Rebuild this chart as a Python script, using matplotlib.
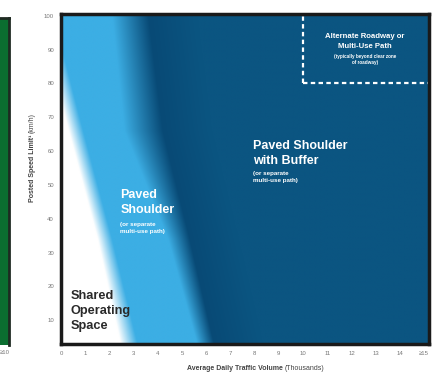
import numpy as np
import matplotlib
matplotlib.use('Agg')
import matplotlib.pyplot as plt
from matplotlib.colors import to_rgb

plt.rcParams['font.family'] = ['Liberation Sans', 'DejaVu Sans']

# axis ticks
x_ticks = list(range(16))
x_labels = [str(v) for v in range(15)] + ['≥15']
y_ticks = list(range(10, 101, 10))

# zone boundaries (speed -> traffic volume)
shared_edge_y = [3, 34, 69, 100]
shared_edge_x = [2.8, 1.8, 0.5, -0.6]
shared_edge_w = [0.35, 0.3, 0.3, 0.3]
buffer_edge_y = [3, 34, 66, 100]
buffer_edge_x = [5.95, 4.85, 3.4, 2.85]
buffer_edge_w = [0.35, 0.45, 0.8, 0.75]

# alternate roadway box
alt_x = 10
alt_y = 80

white = np.array(to_rgb('#ffffff'))
light = np.array(to_rgb('#3caee4'))
deep = np.array(to_rgb('#084a76'))
navy = np.array(to_rgb('#0b5581'))

xmin, xmax, ymin, ymax = 0.08, 15.2, 3, 100.5

fig = plt.figure(figsize=(4.36, 3.76), dpi=100)
ax = fig.add_axes([61/436, 1-344/376, (429-61)/436, (344-14)/376])

# background gradient
gx = np.linspace(xmin, xmax, 800)
gy = np.linspace(ymin, ymax, 300)
X, Y = np.meshgrid(gx, gy)
se = np.interp(Y, shared_edge_y, shared_edge_x)
sw = np.interp(Y, shared_edge_y, shared_edge_w)
be = np.interp(Y, buffer_edge_y, buffer_edge_x)
bw = np.interp(Y, buffer_edge_y, buffer_edge_w)
t1 = np.clip((X - (se - sw)) / (2*sw), 0, 1)[..., None]
t2 = np.clip((X - (be - bw)) / (2*bw), 0, 1)[..., None]
t3 = np.clip((X - (be + bw)) / 2.0, 0, 1)[..., None]
img = white*(1-t1) + light*t1
img = img*(1-t2) + deep*t2
img = img*(1-t3) + navy*t3
ax.imshow(img, extent=[xmin, xmax, ymin, ymax], origin='lower', aspect='auto',
          interpolation='bilinear', zorder=0)

# dashed box
ax.plot([alt_x, alt_x], [alt_y, ymax], color='white', lw=1.6, ls=(0, (2, 1.5)), zorder=2)
ax.plot([alt_x, xmax], [alt_y, alt_y], color='white', lw=1.6, ls=(0, (2, 1.5)), zorder=2)

ax.set_xlim(xmin, xmax)
ax.set_ylim(ymin, ymax)
ax.set_xticks(x_ticks)
ax.set_xticklabels(x_labels)
ax.set_yticks(y_ticks)
ax.tick_params(length=0, labelsize=4.3, labelcolor='#777777', pad=5)
for s in ax.spines.values():
    s.set_linewidth(2.5)
    s.set_color('#1a1a1a')

# zone labels
ax.text(0.4, 12.7, 'Shared\nOperating\nSpace', fontsize=9.2, fontweight='bold',
        color='#2a2a2a', va='center', ha='left', linespacing=1.35)
ax.text(2.45, 44.8, 'Paved\nShoulder', fontsize=9, fontweight='bold',
        color='white', va='center', ha='left', linespacing=1.35)
ax.text(2.45, 37.3, '(or separate\nmulti-use path)', fontsize=4.5, fontweight='bold',
        color='white', va='center', ha='left', linespacing=1.35)
ax.text(7.95, 59.3, 'Paved Shoulder\nwith Buffer', fontsize=9, fontweight='bold',
        color='white', va='center', ha='left', linespacing=1.35)
ax.text(7.95, 52.3, '(or separate\nmulti-use path)', fontsize=4.5, fontweight='bold',
        color='white', va='center', ha='left', linespacing=1.35)
ax.text(12.55, 92.4, 'Alternate Roadway or\nMulti-Use Path', fontsize=5.6, fontweight='bold',
        color='white', va='center', ha='center', linespacing=1.55)
ax.text(12.55, 87.1, '(typically beyond clear zone\nof roadway)', fontsize=3.3, fontweight='bold',
        color='white', va='center', ha='center', linespacing=1.15)

# axis titles
fig.text(283/436, 1-369/376, 'Average Daily Traffic Volume', fontsize=5, fontweight='bold',
         color='#444444', ha='right', va='center')
fig.text(285/436, 1-369/376, '(Thousands)', fontsize=5, color='#444444', ha='left', va='center')
fig.text(32/436, 1-135/376, 'Posted Speed Limit¹', fontsize=5, fontweight='bold',
         color='#444444', ha='center', va='top', rotation=90)
fig.text(32/436, 1-133/376, '(km/h)', fontsize=5, color='#444444', ha='center', va='bottom',
         rotation=90)

# neighbouring panel cut off at the left edge
ax2 = fig.add_axes([-0.02, 1-345/376, 18/436, (345-18)/376])
ax2.set_facecolor('#0b6e30')
ax2.set_xticks([])
ax2.set_yticks([])
for side, s in ax2.spines.items():
    s.set_linewidth(2)
    s.set_color('#1f2a22')
    if side in ('left', 'bottom'):
        s.set_visible(False)
fig.text(9.5/436, 1-352/376, '≥10', fontsize=4.3, color='#777777', ha='right', va='center')

fig.savefig('out.png', dpi=100)
